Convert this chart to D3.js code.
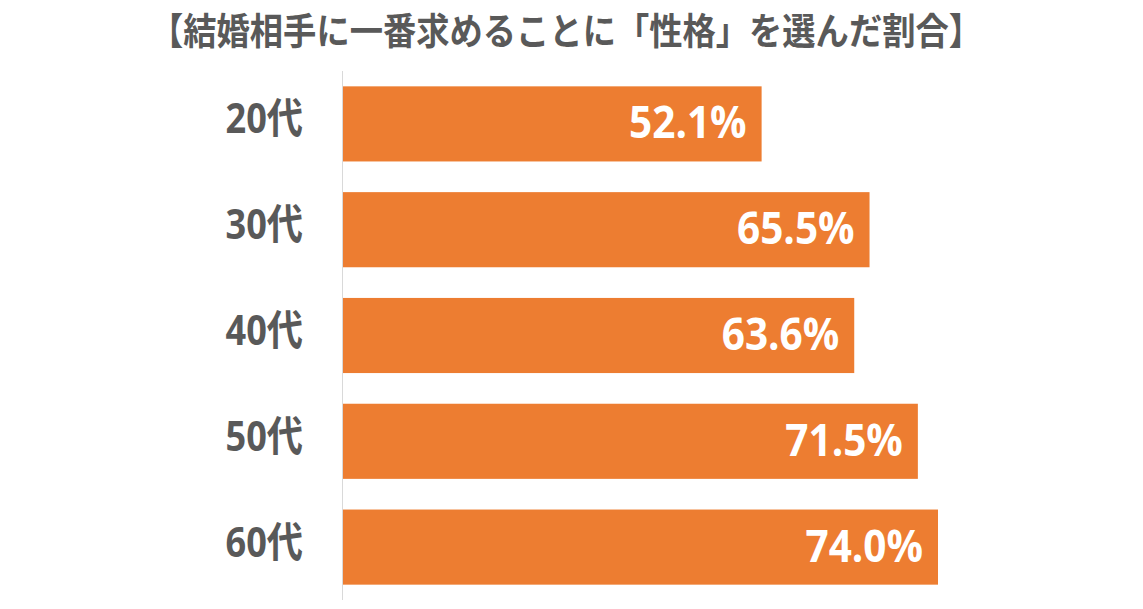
<!DOCTYPE html>
<html>
<head>
<meta charset="utf-8">
<script src="https://cdn.jsdelivr.net/npm/d3@7"></script>
<style>
  body { margin: 0; background: #fff; }
  text { font-family: "Open Sans", "Noto Sans CJK JP", sans-serif; }
</style>
</head>
<body>
<div id="chart"></div>
<script>
var title = "【結婚相手に一番求めることに「性格」を選んだ割合】";
var ages = ["20代", "30代", "40代", "50代", "60代"];
var shares = [52.1, 65.5, 63.6, 71.5, 74.0];

var width = 1143, height = 609;

var svg = d3.select("#chart").append("svg")
  .attr("width", width)
  .attr("height", height);

var x = d3.scaleLinear()
  .domain([0, 100])
  .range([342, 1147.4]);

var y = d3.scaleBand()
  .domain(ages)
  .range([71, 600])
  .paddingInner(0.29)
  .paddingOuter(0.145);

// title, squeezed like the condensed original font
svg.append("text")
  .attr("x", 150)
  .attr("y", 45)
  .attr("font-family", "Noto Sans CJK JP")
  .attr("font-weight", "bold")
  .attr("font-size", 37)
  .attr("fill", "#595959")
  .attr("textLength", 832)
  .attr("lengthAdjust", "spacingAndGlyphs")
  .text(title);

// vertical axis line
svg.append("line")
  .attr("x1", x(0) + 0.5).attr("x2", x(0) + 0.5)
  .attr("y1", 71).attr("y2", 600)
  .attr("stroke", "#d9d9d9")
  .attr("stroke-width", 1);

var rows = ages.map(function(a, i) { return {age: a, v: shares[i]}; });

svg.selectAll(".bar")
  .data(rows)
  .enter().append("rect")
    .attr("class", "bar")
    .attr("x", x(0) + 1)
    .attr("y", function(d) { return y(d.age); })
    .attr("width", function(d) { return x(d.v) - x(0) - 1; })
    .attr("height", y.bandwidth())
    .attr("fill", "#ED7D31");

// value labels inside bar ends
svg.selectAll(".val")
  .data(rows)
  .enter().append("text")
    .attr("class", "val")
    .attr("x", function(d) { return x(d.v) - 15; })
    .attr("y", function(d) { return y(d.age) + y.bandwidth() / 2 + 14.5; })
    .attr("text-anchor", "end")
    .attr("font-weight", "bold")
    .attr("font-size", 45)
    .attr("fill", "#fff")
    .text(function(d) { return d.v.toFixed(1) + "%"; })
    .each(function() {
      var w = this.getComputedTextLength();
      d3.select(this).attr("textLength", w * 0.9).attr("lengthAdjust", "spacingAndGlyphs");
    });

// category labels
svg.selectAll(".cat")
  .data(rows)
  .enter().append("text")
    .attr("class", "cat")
    .attr("x", 303)
    .attr("y", function(d) { return y(d.age) + y.bandwidth() / 2 + 9.5; })
    .attr("text-anchor", "end")
    .attr("font-weight", "bold")
    .attr("font-size", 42)
    .attr("fill", "#595959")
    .text(function(d) { return d.age; })
    .each(function() {
      var w = this.getComputedTextLength();
      d3.select(this).attr("textLength", w * 0.86).attr("lengthAdjust", "spacingAndGlyphs");
    });
</script>
</body>
</html>
